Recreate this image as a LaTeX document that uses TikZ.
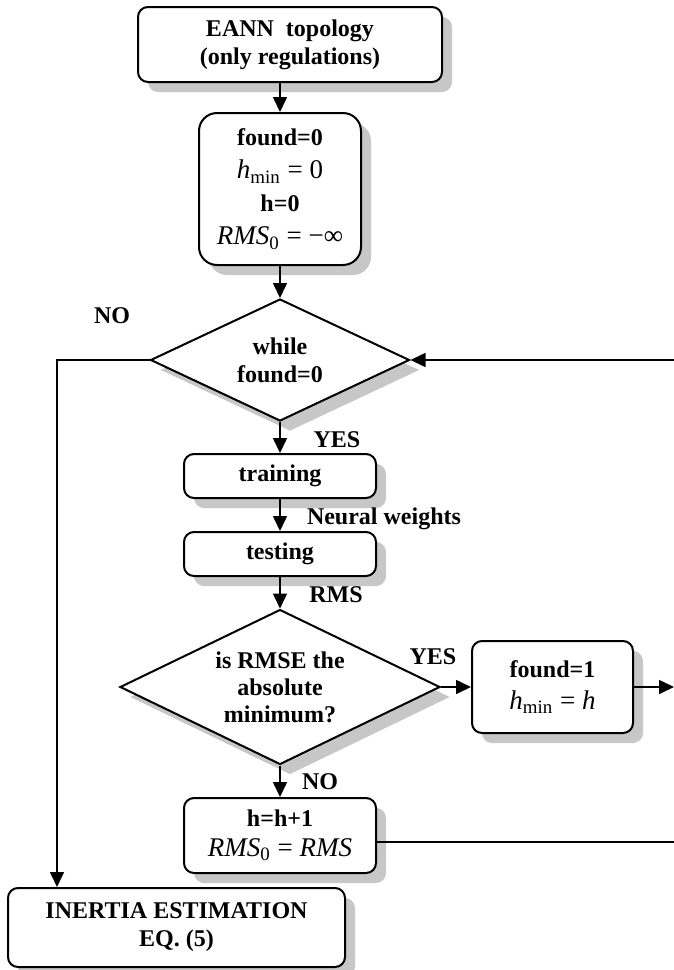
\documentclass[tikz,border=0pt]{standalone}
\usepackage{fontspec}
\setmainfont{Liberation Serif}
\usetikzlibrary{shapes.geometric,shadows,arrows.meta}

\newcommand{\eqn}[1]{{\normalfont\fontsize{13.5}{16}\selectfont #1}}
\newcommand{\hmin}{\textit{h}\textsubscript{min}}

\begin{document}
\begin{tikzpicture}[x=0.5pt,y=-0.5pt,
    font=\fontsize{12}{14}\selectfont\bfseries,
    boxshadow/.style={drop shadow={shadow xshift=5pt,shadow yshift=-5pt,fill=black!22,opacity=1}},
    box/.style={draw,line width=1pt,rounded corners=5pt,fill=white,align=center,inner sep=0pt,boxshadow},
    decision/.style={diamond,draw,line width=1pt,fill=white,align=center,inner sep=0pt,aspect=2,boxshadow},
    arr/.style={-{Triangle[length=7.5pt,width=7pt]},line width=0.8pt},
    conn/.style={line width=0.8pt}]
    \useasboundingbox (0,0) rectangle (674,970);

    % Boxes
    \node[box,minimum width=152pt,minimum height=37.5pt] (topo) at (290,44.5) {EANN\ \ topology\\(only regulations)};
    \node[box,rounded corners=9pt,minimum width=81pt,minimum height=76pt,font=\fontsize{12}{16.5}\selectfont\bfseries] (init) at (280,189)
        {found=0\\\eqn{\hmin{} = 0}\\h=0\\\eqn{\textit{RMS}\textsubscript{0} = −∞}};
    \node[decision,minimum width=129.5pt,minimum height=61pt] (loop) at (280,360) {while\\found=0};
    \node[box,minimum width=96pt,minimum height=22pt] (train) at (280,476) {training};
    \node[box,minimum width=96pt,minimum height=22pt] (testing) at (280,554) {testing};
    \node[decision,minimum width=160pt,minimum height=77.5pt,font=\fontsize{12}{13.5}\selectfont\bfseries] (check) at (280,687)
        {is RMSE the\\absolute\\minimum?};
    \node[box,minimum width=80.5pt,minimum height=46pt,font=\fontsize{12}{16}\selectfont\bfseries] (found) at (552.5,687)
        {found=1\\\eqn{\hmin{} = \textit{h}}};
    \node[box,minimum width=96pt,minimum height=37.5pt,font=\fontsize{12}{15}\selectfont\bfseries] (incr) at (280,835.5)
        {h=h+1\\\eqn{\textit{RMS}\textsubscript{0} = \textit{RMS}}};
    \node[box,minimum width=168.5pt,minimum height=39.5pt] (inertia) at (176.5,927.5) {INERTIA ESTIMATION\\EQ. (5)};

    % Loop ends at the right edge
    \coordinate (outA) at (674,687);
    \coordinate (outB) at (674,842);
    \coordinate (outC) at (674,360);
    \coordinate (lft) at (57,360);

    % Connectors
    \draw[arr] (topo.south -| init.north) -- (init.north);
    \draw[arr] (init) -- (loop);
    \draw[arr] (loop) -- (train);
    \draw[arr] (train) -- (testing);
    \draw[arr] (testing) -- (check);
    \draw[arr] (check) -- (found);
    \draw[arr] (found) -- (outA);
    \draw[arr] (check) -- (incr);
    \draw[conn] (incr.east |- outB) -- (outB);
    \draw[arr] (outC) -- (loop.east);
    \draw[arr] (loop.west) -- (lft) -- (lft |- inertia.north);

    % Labels
    \node (no1) at (112,316) {NO};
    \node (yes1) at (337,440) {YES};
    \node (nw) at (384,519) {Neural weights};
    \node (rms) at (336,595) {RMS};
    \node (yes2) at (433,657) {YES};
    \node (no2) at (320,782) {NO};
\end{tikzpicture}
\end{document}
